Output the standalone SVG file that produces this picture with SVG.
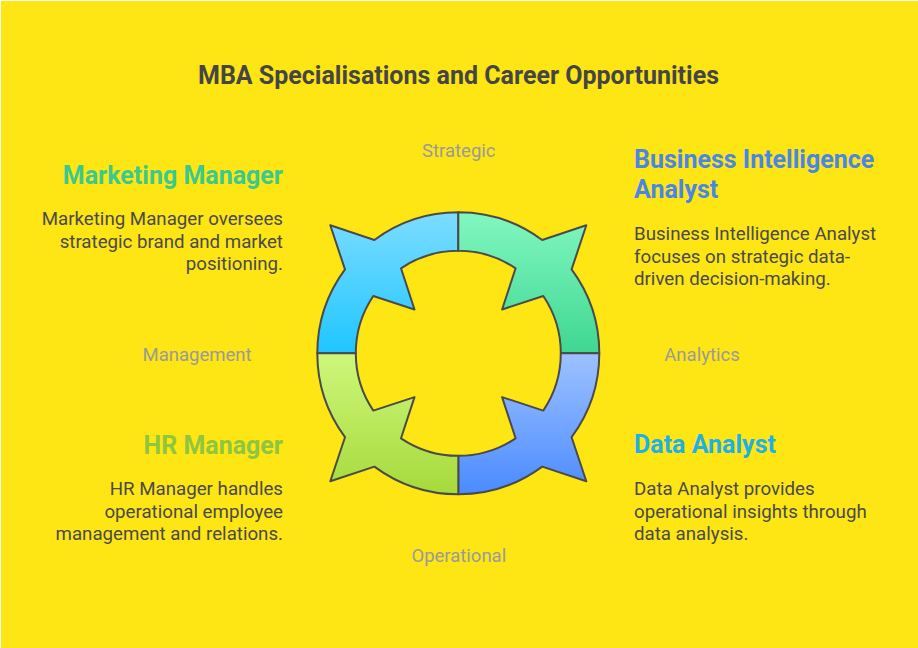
<svg xmlns="http://www.w3.org/2000/svg" width="918" height="648" viewBox="0 0 918 648">
<defs>
<linearGradient id="gTL" x1="0" y1="0" x2="0" y2="1"><stop offset="0" stop-color="#7ddcff"/><stop offset="1" stop-color="#1ec6ff"/></linearGradient>
<linearGradient id="gTR" x1="0" y1="0" x2="0" y2="1"><stop offset="0" stop-color="#82f7c0"/><stop offset="1" stop-color="#3fd792"/></linearGradient>
<linearGradient id="gBR" x1="0" y1="0" x2="0" y2="1"><stop offset="0" stop-color="#9dc1ff"/><stop offset="1" stop-color="#4a8bff"/></linearGradient>
<linearGradient id="gBL" x1="0" y1="0" x2="0" y2="1"><stop offset="0" stop-color="#cdf77b"/><stop offset="1" stop-color="#a6da3b"/></linearGradient>
<style>
.seg{stroke:#4a4a4a;stroke-width:2;stroke-linejoin:round}
.title{font-family:Roboto,"Liberation Sans",sans-serif;font-weight:bold;font-size:25px;fill:#454545}
.head{font-family:Roboto,"Liberation Sans",sans-serif;font-weight:bold;font-size:25px}
.body{font-family:Roboto,"Liberation Sans",sans-serif;font-size:18.7px;fill:#4a4a4a}
.lab{font-family:Roboto,"Liberation Sans",sans-serif;font-size:18.5px;fill:#9a9a9a;text-anchor:middle}
.r{text-anchor:end}
</style>
</defs>
<rect x="0" y="0" width="918" height="648" fill="#fdfdf0"/>
<rect x="1" y="1" width="917" height="647" fill="#fee514"/>
<text class="title" x="458.5" y="84" text-anchor="middle">MBA Specialisations and Career Opportunities</text>
<g id="ring" transform="translate(458.3,353.3)">
<g id="seg-tl"><path class="seg" fill="url(#gTL)" d="M-141,0 A141,141 0 0 1 -113.3,-83.9 L-128,-128 L-83.9,-113.3 A141,141 0 0 1 0,-141 L0,-102.5 A102.5,102.5 0 0 0 -57.3,-85 L-43.8,-43.8 L-85,-57.3 A102.5,102.5 0 0 0 -102.5,0 Z"/></g>
<g id="seg-tr"><path class="seg" fill="url(#gTR)" d="M0,-141 A141,141 0 0 1 83.9,-113.3 L128,-128 L113.3,-83.9 A141,141 0 0 1 141,0 L102.5,0 A102.5,102.5 0 0 0 85,-57.3 L43.8,-43.8 L57.3,-85 A102.5,102.5 0 0 0 0,-102.5 Z"/></g>
<g id="seg-br"><path class="seg" fill="url(#gBR)" d="M141,0 A141,141 0 0 1 113.3,83.9 L128,128 L83.9,113.3 A141,141 0 0 1 0,141 L0,102.5 A102.5,102.5 0 0 0 57.3,85 L43.8,43.8 L85,57.3 A102.5,102.5 0 0 0 102.5,0 Z"/></g>
<g id="seg-bl"><path class="seg" fill="url(#gBL)" d="M0,141 A141,141 0 0 1 -83.9,113.3 L-128,128 L-113.3,83.9 A141,141 0 0 1 -141,0 L-102.5,0 A102.5,102.5 0 0 0 -85,57.3 L-43.8,43.8 L-57.3,85 A102.5,102.5 0 0 0 0,102.5 Z"/></g>
</g>
<g id="labels">
<text class="lab" x="458.8" y="157.3">Strategic</text>
<text class="lab" x="197" y="360.5">Management</text>
<text class="lab" x="702" y="360.5">Analytics</text>
<text class="lab" x="458.8" y="561.8">Operational</text>
</g>
<g id="marketing">
<text class="head r" x="283" y="184.3" fill="#3cc98e">Marketing Manager</text>
<text class="body r" x="283" y="225"><tspan x="283">Marketing Manager oversees</tspan><tspan x="283" dy="22.5">strategic brand and market</tspan><tspan x="283" dy="22.5">positioning.</tspan></text>
</g>
<g id="bi">
<text class="head" x="634" y="167.5" fill="#4a86e8"><tspan x="634">Business Intelligence</tspan><tspan x="634" dy="30">Analyst</tspan></text>
<text class="body" x="634" y="240"><tspan x="634">Business Intelligence Analyst</tspan><tspan x="634" dy="22.5">focuses on strategic data-</tspan><tspan x="634" dy="22.5">driven decision-making.</tspan></text>
</g>
<g id="hr">
<text class="head r" x="283" y="454.2" fill="#8fc63f">HR Manager</text>
<text class="body r" x="283" y="495"><tspan x="283">HR Manager handles</tspan><tspan x="283" dy="22.5">operational employee</tspan><tspan x="283" dy="22.5">management and relations.</tspan></text>
</g>
<g id="data">
<text class="head" x="634" y="453.2" fill="#1eb0e6">Data Analyst</text>
<text class="body" x="634" y="495"><tspan x="634">Data Analyst provides</tspan><tspan x="634" dy="22.5">operational insights through</tspan><tspan x="634" dy="22.5">data analysis.</tspan></text>
</g>
</svg>
